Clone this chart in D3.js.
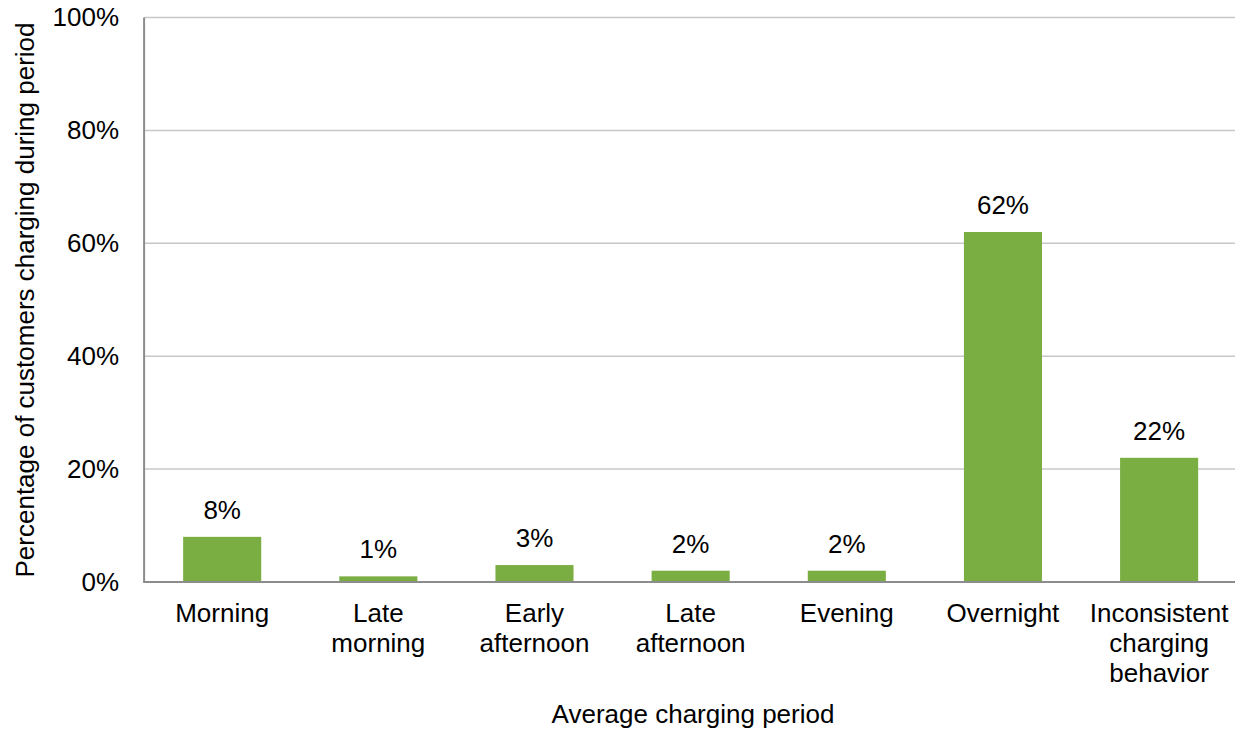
<!DOCTYPE html>
<html>
<head>
<meta charset="utf-8">
<script src="https://cdn.jsdelivr.net/npm/d3@7"></script>
<style>
  html, body { margin: 0; padding: 0; background: #fff; }
  svg { display: block; }
  text { font-family: "Liberation Sans", Arial, sans-serif; fill: #000; }
</style>
</head>
<body>
<svg id="chart" width="1235" height="729"></svg>
<script>
// Average charging period of customers
const categories = [
  ["Morning"],
  ["Late", "morning"],
  ["Early", "afternoon"],
  ["Late", "afternoon"],
  ["Evening"],
  ["Overnight"],
  ["Inconsistent", "charging", "behavior"]
];
const shares = [8, 1, 3, 2, 2, 62, 22];
const yTicks = [0, 20, 40, 60, 80, 100];
const xTitle = "Average charging period";
const yTitle = "Percentage of customers charging during period";

const svg = d3.select("#chart");
const W = 1235, H = 729;
const FS = 26;
const plot = { left: 144.1, right: 1237.2, top: 17.5, bottom: 582 };

const x = d3.scaleBand()
  .domain(d3.range(categories.length))
  .range([plot.left, plot.right])
  .paddingInner(0.5)
  .paddingOuter(0.25);

const y = d3.scaleLinear().domain([0, 100]).range([plot.bottom, plot.top]);

// horizontal gridlines
svg.append("g")
  .selectAll("line")
  .data(yTicks.filter(d => d > 0))
  .join("line")
  .attr("x1", plot.left).attr("x2", W)
  .attr("y1", d => y(d)).attr("y2", d => y(d))
  .attr("stroke", "#c8c8c8").attr("stroke-width", 1.5);

// y axis (labels only, line drawn separately)
const yAxis = d3.axisLeft(y).tickValues(yTicks).tickFormat(d => d + "%").tickSize(0).tickPadding(25);
const gy = svg.append("g").attr("transform", `translate(${plot.left},0)`).call(yAxis);
gy.select(".domain").remove();
gy.selectAll("text")
  .attr("font-size", FS)
  .attr("font-family", "Liberation Sans, Arial, sans-serif")
  .attr("fill", "#000");

// bars
svg.append("g")
  .selectAll("rect")
  .data(shares)
  .join("rect")
  .attr("x", (d, i) => x(i))
  .attr("width", x.bandwidth())
  .attr("y", d => y(d))
  .attr("height", d => y(0) - y(d))
  .attr("fill", "#7aae42");

// value labels
svg.append("g")
  .selectAll("text")
  .data(shares)
  .join("text")
  .attr("x", (d, i) => x(i) + x.bandwidth() / 2)
  .attr("y", d => y(d) - 18)
  .attr("text-anchor", "middle")
  .attr("font-size", FS)
  .text(d => d + "%");

// axis lines
svg.append("line")
  .attr("x1", plot.left).attr("x2", plot.left)
  .attr("y1", plot.top).attr("y2", plot.bottom)
  .attr("stroke", "#8c8c8c").attr("stroke-width", 2);
svg.append("line")
  .attr("x1", plot.left - 1).attr("x2", W)
  .attr("y1", plot.bottom).attr("y2", plot.bottom)
  .attr("stroke", "#8c8c8c").attr("stroke-width", 2);

// category labels
const catG = svg.append("g");
categories.forEach((lines, i) => {
  const t = catG.append("text")
    .attr("x", x(i) + x.bandwidth() / 2)
    .attr("y", 622)
    .attr("text-anchor", "middle")
    .attr("font-size", FS);
  lines.forEach((ln, k) => {
    t.append("tspan")
      .attr("x", x(i) + x.bandwidth() / 2)
      .attr("dy", k === 0 ? 0 : 29.8)
      .text(ln);
  });
});

// axis titles
svg.append("text")
  .attr("x", 693).attr("y", 723)
  .attr("text-anchor", "middle")
  .attr("font-size", FS)
  .text(xTitle);

svg.append("text")
  .attr("transform", "translate(33.5,300) rotate(-90)")
  .attr("text-anchor", "middle")
  .attr("font-size", FS)
  .text(yTitle);
</script>
</body>
</html>
